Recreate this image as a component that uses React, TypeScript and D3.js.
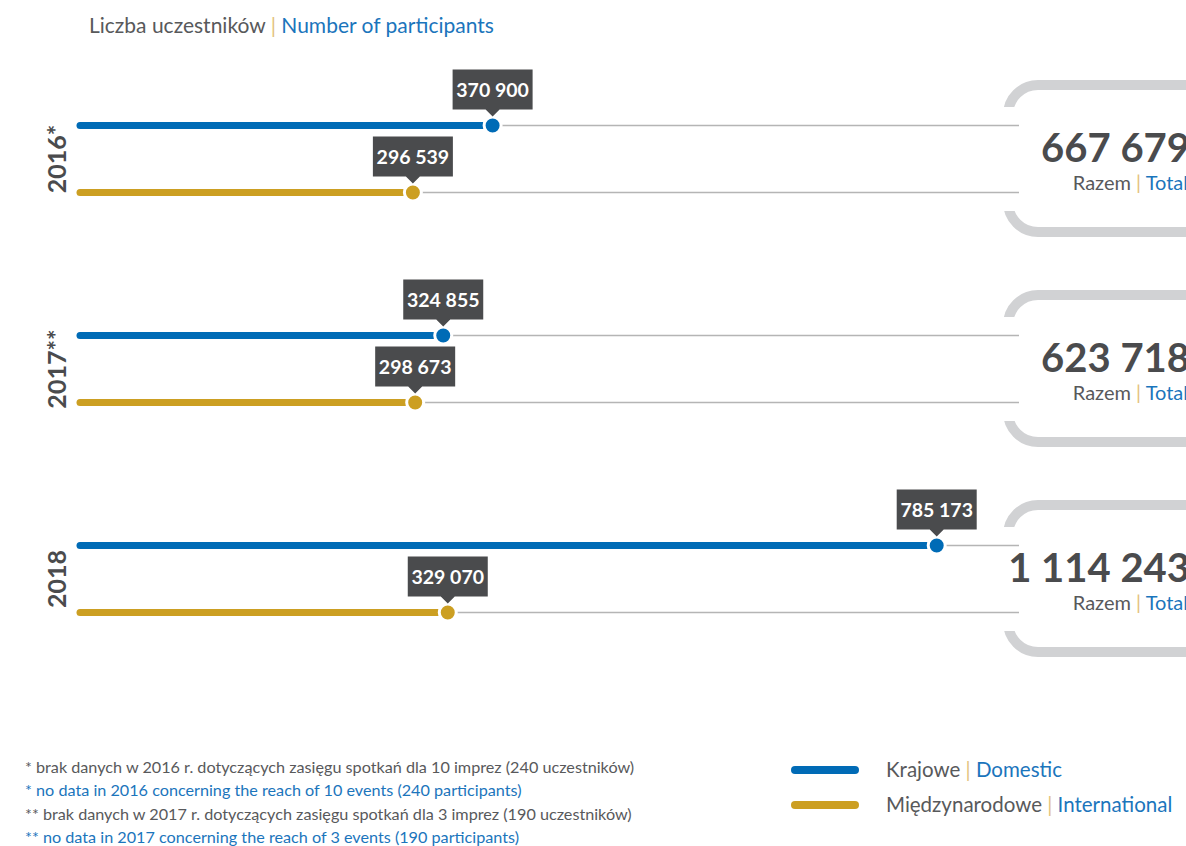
import React from "react";
import * as d3 from "d3";

const years = ["2016*", "2017**", "2018"];
const domestic = [370900, 324855, 785173];
const international = [296539, 298673, 329070];
const totals = [667679, 623718, 1114243];
const seriesNames = [
  { pl: "Krajowe", en: "Domestic" },
  { pl: "Międzynarodowe", en: "International" },
];
const footnotes = [
  { text: "* brak danych w 2016 r. dotyczących zasięgu spotkań dla 10 imprez (240 uczestników)", en: false },
  { text: "* no data in 2016 concerning the reach of 10 events (240 participants)", en: true },
  { text: "** brak danych w 2017 r. dotyczących zasięgu spotkań dla 3 imprez (190 uczestników)", en: false },
  { text: "** no data in 2017 concerning the reach of 3 events (190 participants)", en: true },
];

const BLUE = "#006bb6";
const GOLD = "#cc9f22";
const DARK = "#4a4b4d";
const GREYTXT = "#58595b";
const ENBLUE = "#1b75bc";
const PIPE = "#e3c27c";
const FONT = "Lato, 'Open Sans', sans-serif";

const fmt = d3.formatLocale({ decimal: ",", thousands: " ", grouping: [3], currency: ["", ""] }).format(",d");

export default function App() {
  const W = 1186, H = 846;
  const x = d3.scaleLinear().domain([0, 800000]).range([95, 952.6]);
  const y = d3.scalePoint<string>().domain(years).range([159, 579]);
  const off = d3.scalePoint<string>().domain(["d", "i"]).range([-33.5, 33.5]);
  const barStart = 80;
  const lineEnd = 1019;
  const boxLeft = 1008;
  const r = 30;

  const rows = years.flatMap((yr, i) => [
    { yr, key: "d", v: domestic[i], color: BLUE },
    { yr, key: "i", v: international[i], color: GOLD },
  ]);

  return (
    <svg width={W} height={H} style={{ position: "absolute", left: 0, top: 0, fontFamily: FONT }}>
      <rect width={W} height={H} fill="#fff" />
      {/* title */}
      <text x={89} y={33} fontSize={21}>
        <tspan fill={GREYTXT}>Liczba uczestników </tspan>
        <tspan fill={PIPE}>|</tspan>
        <tspan fill={ENBLUE}> Number of participants</tspan>
      </text>

      {/* total boxes */}
      {years.map((yr, i) => {
        const cy = y(yr)!;
        const top = cy - 74, bot = cy + 73;
        const p = `M ${W + 20} ${top} L ${boxLeft + r} ${top} A ${r} ${r} 0 0 0 ${boxLeft} ${top + r} L ${boxLeft} ${bot - r} A ${r} ${r} 0 0 0 ${boxLeft + r} ${bot} L ${W + 20} ${bot}`;
        return (
          <g key={"box" + yr}>
            <path d={p} fill="none" stroke="#d1d2d4" strokeWidth={10} />
            <rect x={995} y={top + 22} width={26} height={bot - top - 43} fill="#fff" />
            <text x={1190} y={cy + 3} textAnchor="end" fontSize={40} fontWeight={700} fill={DARK}>
              {fmt(totals[i])}
            </text>
            <text x={1188} y={cy + 31} textAnchor="end" fontSize={20}>
              <tspan fill={GREYTXT}>Razem </tspan>
              <tspan fill={PIPE}>|</tspan>
              <tspan fill={ENBLUE}> Total</tspan>
            </text>
          </g>
        );
      })}

      {/* year labels */}
      {years.map((yr) => (
        <text
          key={"yl" + yr}
          transform={`translate(66,${y(yr)}) rotate(-90)`}
          textAnchor="middle"
          fontSize={25}
          fontWeight={700}
          fill={DARK}
        >
          {yr}
        </text>
      ))}

      {/* rows */}
      {rows.map((d) => {
        const cy = y(d.yr)! + off(d.key)!;
        const cx = x(d.v);
        const bw = 80, bh = 40;
        const bTop = cy - 56;
        return (
          <g key={d.yr + d.key}>
            <line x1={cx} x2={lineEnd} y1={cy} y2={cy} stroke="#b5b5b5" strokeWidth={1.6} />
            <line x1={barStart} x2={cx} y1={cy} y2={cy} stroke={d.color} strokeWidth={7} strokeLinecap="round" />
            <circle cx={cx} cy={cy} r={8.5} fill={d.color} stroke="#fff" strokeWidth={3} />
            <path
              d={`M ${cx - bw / 2} ${bTop} H ${cx + bw / 2} V ${bTop + bh} H ${cx + 7} L ${cx} ${bTop + bh + 7} L ${cx - 7} ${bTop + bh} H ${cx - bw / 2} Z`}
              fill={DARK}
            />
            <text x={cx} y={bTop + 27} textAnchor="middle" fontSize={19.5} fontWeight={700} fill="#fff">
              {fmt(d.v)}
            </text>
          </g>
        );
      })}

      {/* footnotes */}
      {footnotes.map((f, i) => (
        <text key={"fn" + i} x={25} y={773 + i * 23.4} fontSize={16.2} fill={f.en ? ENBLUE : GREYTXT}>
          {f.text}
        </text>
      ))}

      {/* legend */}
      {seriesNames.map((s, i) => (
        <g key={"lg" + i} transform={`translate(0,${770 + i * 35})`}>
          <line x1={795} x2={855} y1={0} y2={0} stroke={i === 0 ? BLUE : GOLD} strokeWidth={8} strokeLinecap="round" />
          <text x={886} y={6.5} fontSize={20.5}>
            <tspan fill={GREYTXT}>{s.pl} </tspan>
            <tspan fill={PIPE}>|</tspan>
            <tspan fill={ENBLUE}> {s.en}</tspan>
          </text>
        </g>
      ))}
    </svg>
  );
}
